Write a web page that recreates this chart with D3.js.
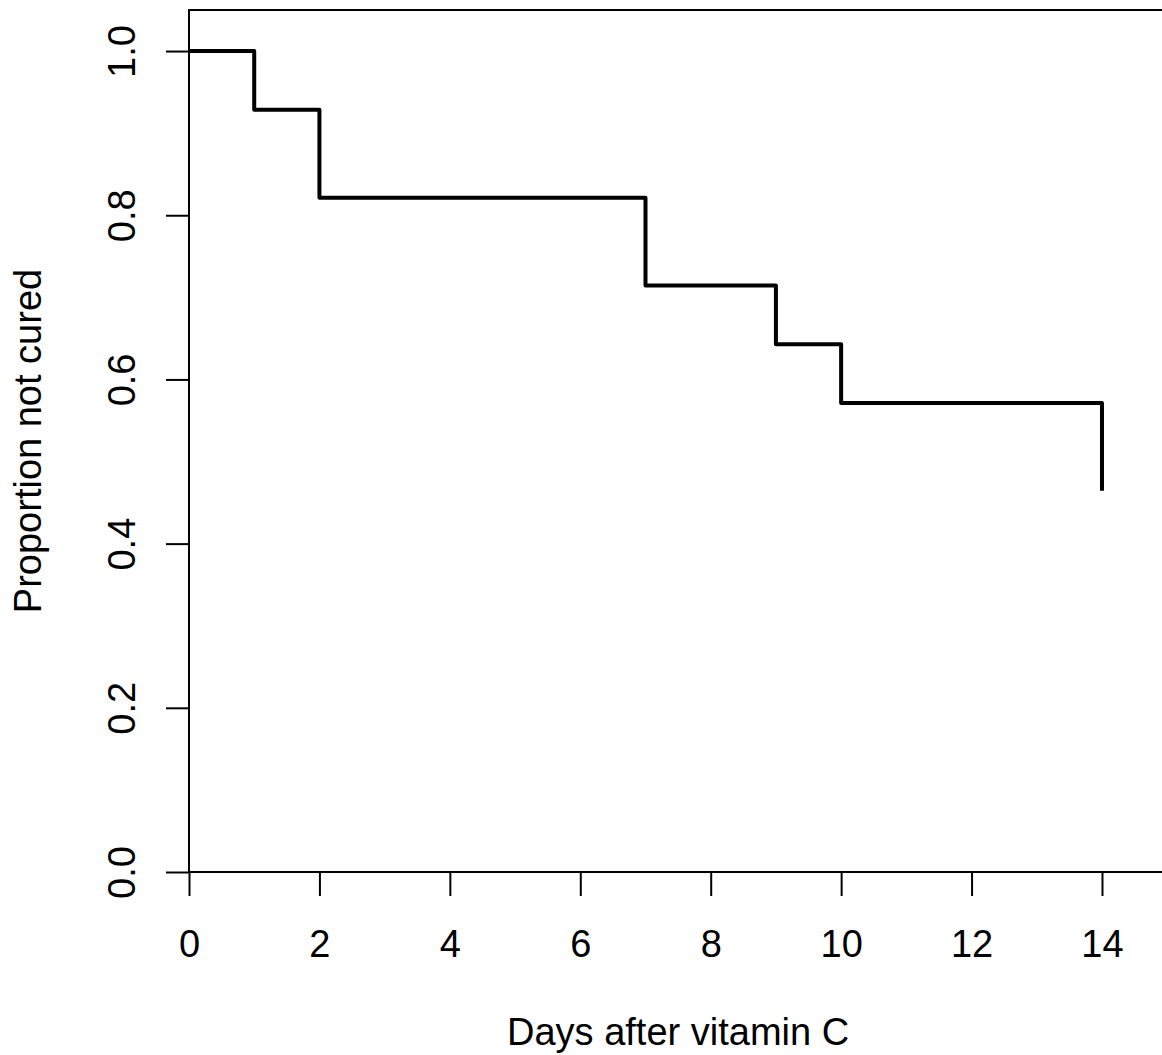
<!DOCTYPE html>
<html>
<head>
<meta charset="utf-8">
<script src="https://cdn.jsdelivr.net/npm/d3@7"></script>
<style>
  body { margin: 0; background: #fff; }
  svg { display: block; font-family: "Liberation Sans", Arial, sans-serif; }
</style>
</head>
<body>
<div class="chart"></div>
<script>
// survival curve values
const days = [0, 1, 2, 7, 9, 10, 14];
const notCured = [1.0, 0.9286, 0.8214, 0.7143, 0.6429, 0.5714, 0.4643];
const xTicks = [0, 2, 4, 6, 8, 10, 12, 14];
const yTicks = [0, 0.2, 0.4, 0.6, 0.8, 1.0];

const data = days.map((d, i) => ({day: d, p: notCured[i]}));

let outWidth = 1162, outHeight = 1055;
let plotLeft = 189, plotTop = 10, plotRight = 1167.2, plotBottom = 872;

const svg = d3.select(".chart").append("svg")
    .attr("width", outWidth)
    .attr("height", outHeight);

let xScale = d3.scaleLinear().domain([0, 15]).range([plotLeft, plotRight]);
let yScale = d3.scaleLinear().domain([0, 1.05]).range([plotBottom, plotTop]);

// box
svg.append("rect")
    .attr("x", plotLeft).attr("y", plotTop)
    .attr("width", plotRight - plotLeft).attr("height", plotBottom - plotTop)
    .attr("fill", "none").attr("stroke", "black").attr("stroke-width", 2);

const xAxis = d3.axisBottom(xScale)
    .tickValues(xTicks)
    .tickSize(24)
    .tickPadding(34)
    .tickFormat(d3.format("d"));

const yAxis = d3.axisLeft(yScale)
    .tickValues(yTicks)
    .tickSize(23)
    .tickFormat(d3.format(".1f"));

const gx = svg.append("g")
    .attr("transform", `translate(0, ${plotBottom})`)
    .call(xAxis);
gx.select(".domain").remove();
gx.selectAll(".tick line").attr("stroke-width", 2);
gx.selectAll(".tick text")
    .attr("font-size", 38)
    .attr("font-family", "Liberation Sans, Arial, sans-serif")
    .attr("fill", "black");

const gy = svg.append("g")
    .attr("transform", `translate(${plotLeft}, 0)`)
    .call(yAxis);
gy.select(".domain").remove();
gy.selectAll(".tick line").attr("stroke-width", 2);
gy.selectAll(".tick text")
    .attr("font-size", 38)
    .attr("font-family", "Liberation Sans, Arial, sans-serif")
    .attr("fill", "black")
    .attr("text-anchor", "middle")
    .attr("dy", null)
    .attr("x", null)
    .attr("transform", "translate(-54, 0) rotate(-90)");

// step line
const line = d3.line()
    .x(d => xScale(d.day))
    .y(d => yScale(d.p))
    .curve(d3.curveStepAfter);

svg.append("path")
    .datum(data)
    .attr("d", line)
    .attr("fill", "none")
    .attr("stroke", "black")
    .attr("stroke-width", 4)
    .attr("stroke-linejoin", "round")
    .attr("stroke-linecap", "butt");

// axis titles
svg.append("text")
    .attr("x", (plotLeft + plotRight) / 2)
    .attr("y", 1045)
    .attr("text-anchor", "middle")
    .attr("font-size", 38)
    .text("Days after vitamin C");

svg.append("text")
    .attr("transform", `translate(41, ${(plotTop + plotBottom) / 2}) rotate(-90)`)
    .attr("text-anchor", "middle")
    .attr("font-size", 38)
    .text("Proportion not cured");
</script>
</body>
</html>
